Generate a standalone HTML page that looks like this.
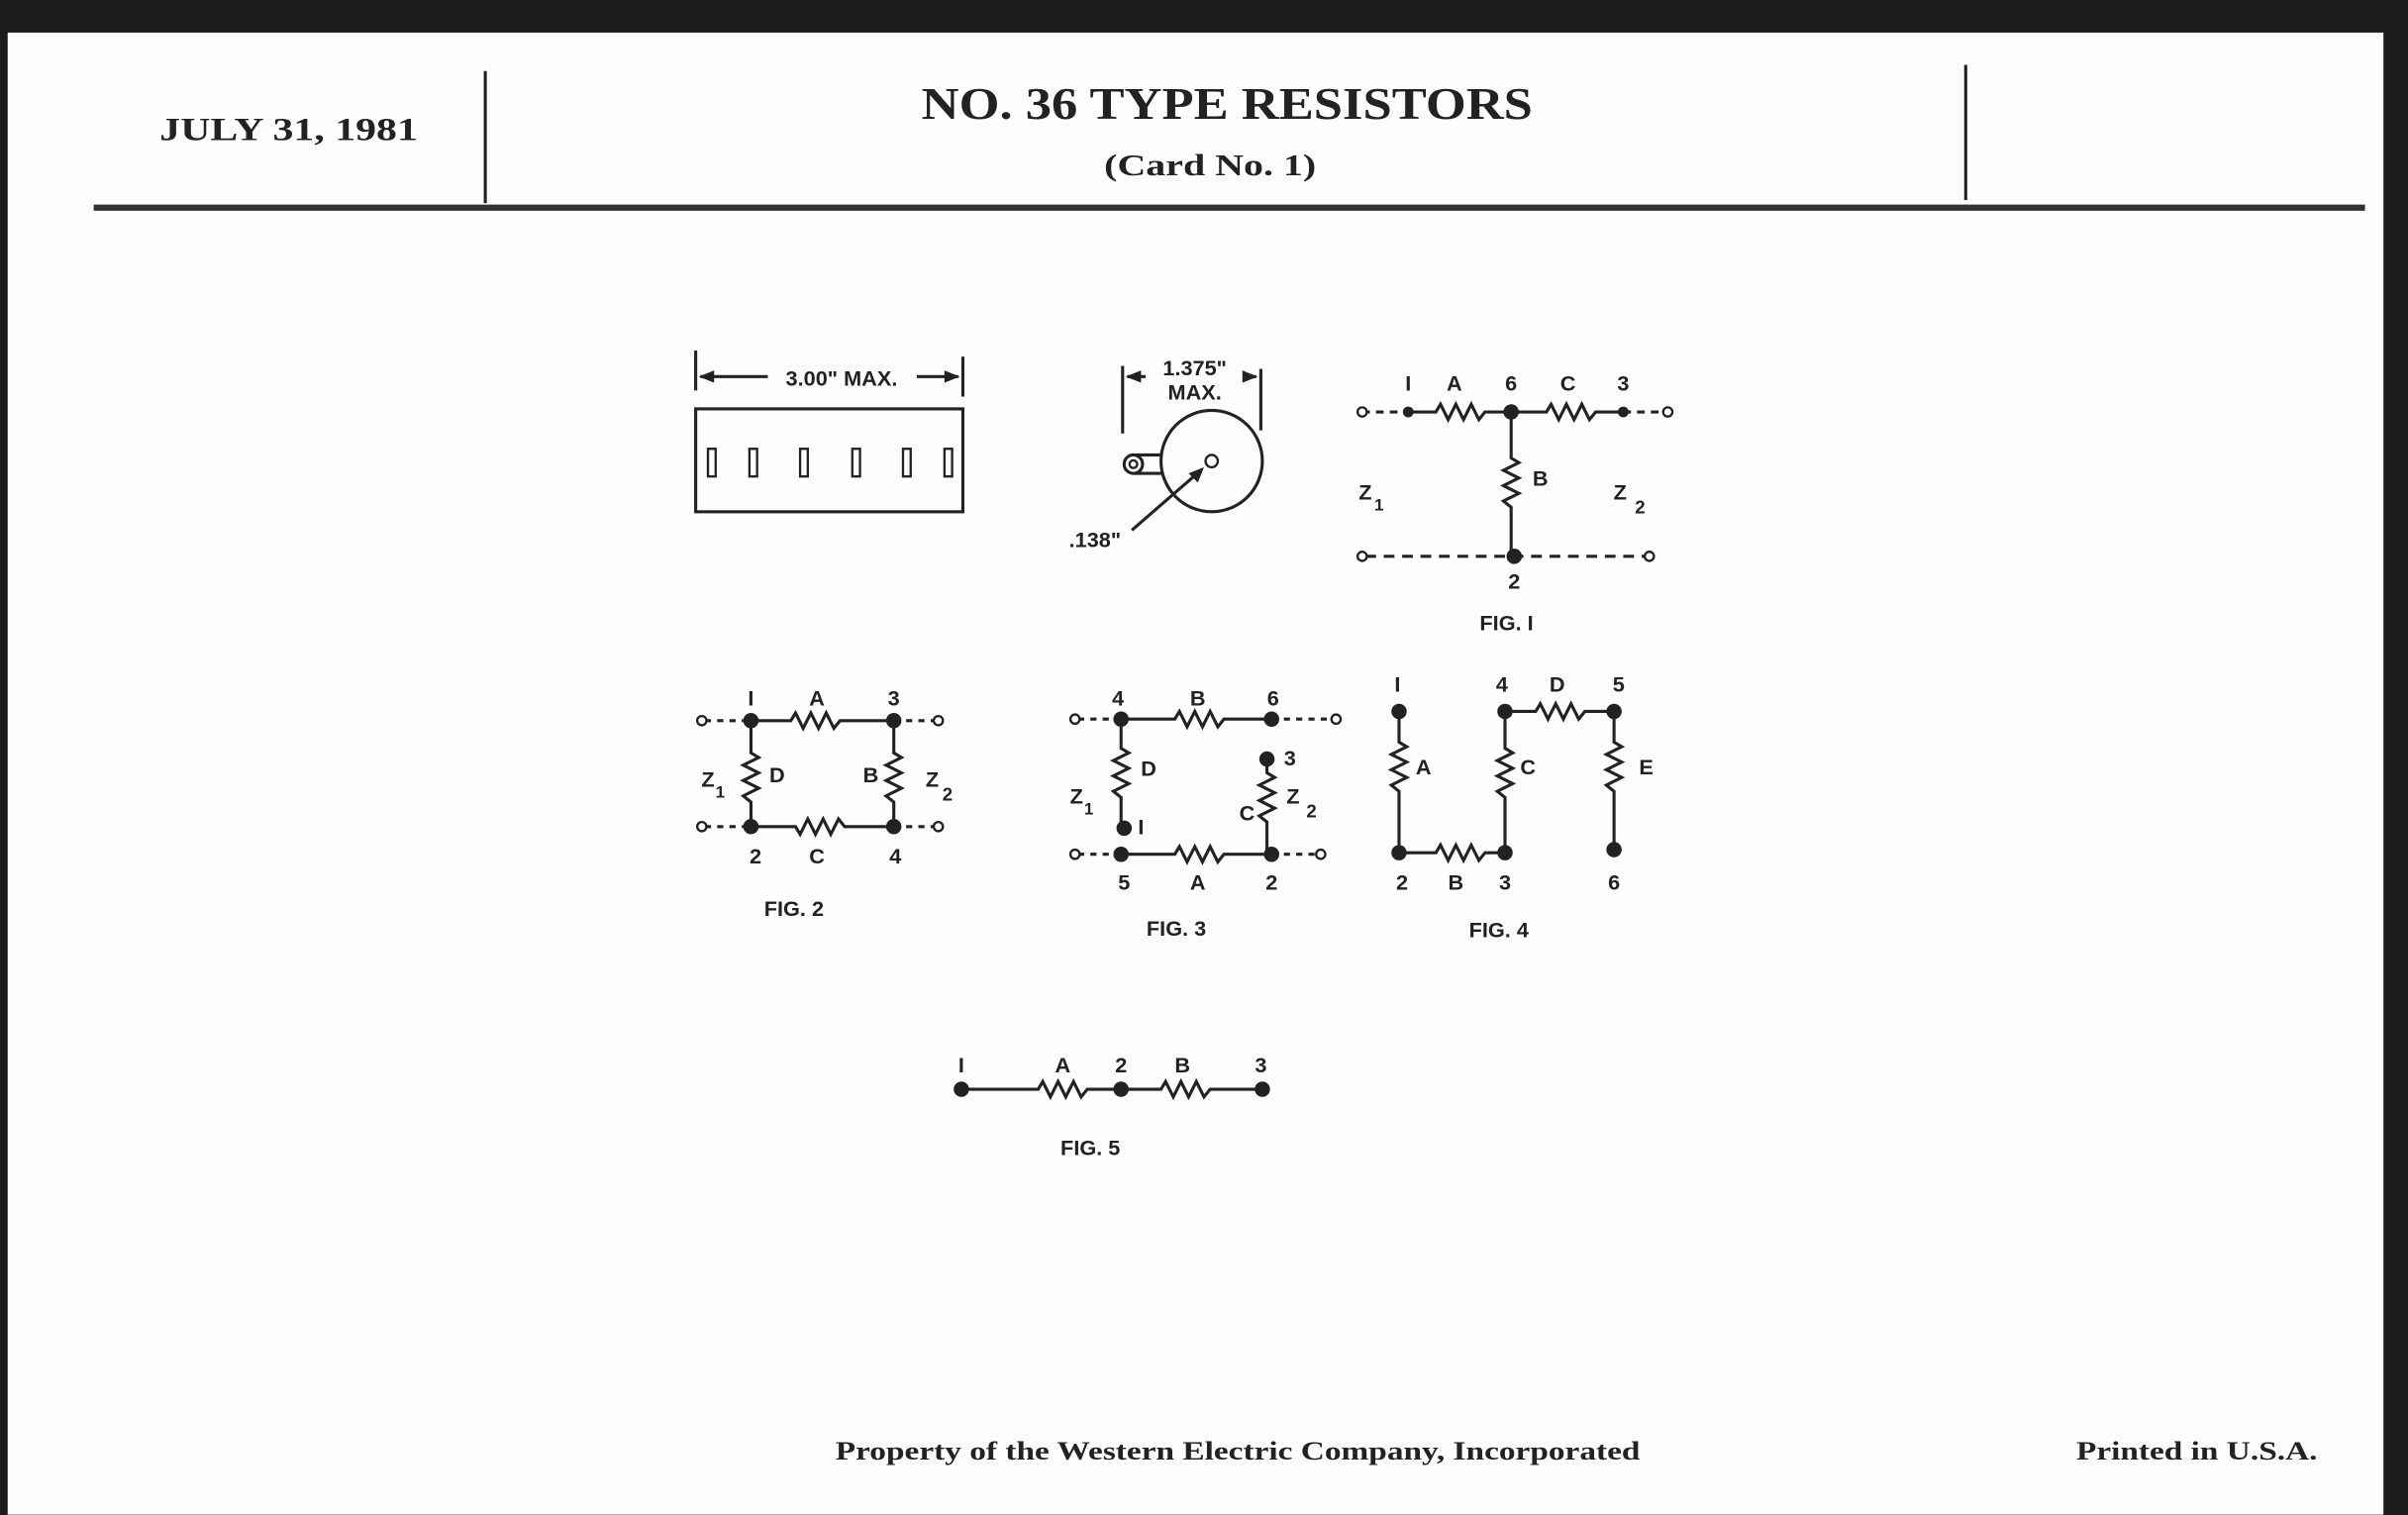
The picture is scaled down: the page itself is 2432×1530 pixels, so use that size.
<!DOCTYPE html>
<html><head><meta charset="utf-8"><style>
html,body{margin:0;padding:0;background:#1a1a1a;}
svg{display:block;}
.s{font-family:"Liberation Serif",serif;font-weight:bold;fill:#222;}
.d{font-family:"Liberation Sans",sans-serif;font-weight:bold;fill:#222;font-size:14px;}
</style></head><body>
<svg width="2432" height="1530" viewBox="0 0 1568 986" xmlns="http://www.w3.org/2000/svg">
<rect x="0" y="0" width="1568" height="986" fill="#1c1c1c"/>
<rect x="5" y="21" width="1547" height="965" fill="#fdfdfd"/>
<!-- header -->
<line x1="316" y1="46" x2="316" y2="132" stroke="#222" stroke-width="2"/>
<line x1="1280" y1="42" x2="1280" y2="130" stroke="#222" stroke-width="2"/>
<line x1="61" y1="135" x2="1540" y2="135" stroke="#333" stroke-width="4"/>
<text class="s" x="104" y="91" font-size="21" textLength="168" lengthAdjust="spacingAndGlyphs">JULY 31, 1981</text>
<text class="s" x="600" y="77" font-size="29" textLength="398" lengthAdjust="spacingAndGlyphs">NO. 36 TYPE RESISTORS</text>
<text class="s" x="719" y="114" font-size="20" font-weight="normal" textLength="138" lengthAdjust="spacingAndGlyphs">(Card No. 1)</text>
<text class="s" x="544" y="950" font-size="17" textLength="524" lengthAdjust="spacingAndGlyphs">Property of the Western Electric Company, Incorporated</text>
<text class="s" x="1352" y="950" font-size="17" textLength="157" lengthAdjust="spacingAndGlyphs">Printed in U.S.A.</text>

<g stroke="#222" stroke-width="2" fill="none">
<rect x="453" y="266" width="174" height="67"/>
<g stroke-width="1.5">
<rect x="461" y="292" width="5" height="18"/><rect x="488" y="292" width="5" height="18"/>
<rect x="521" y="292" width="5" height="18"/><rect x="555" y="292" width="5" height="18"/>
<rect x="588" y="292" width="5" height="18"/><rect x="615" y="292" width="5" height="18"/>
</g>
<line x1="453" y1="228" x2="453" y2="254"/><line x1="627" y1="232" x2="627" y2="258"/>
<line x1="456" y1="245" x2="500" y2="245"/><line x1="597" y1="245" x2="624" y2="245"/>
<circle cx="789" cy="300" r="33"/>
<circle cx="789" cy="300" r="4" stroke-width="1.5"/>
<circle cx="738" cy="302" r="6"/><circle cx="738" cy="302" r="2.5" stroke-width="1.5"/>
<line x1="738" y1="296" x2="757" y2="296"/><line x1="738" y1="308" x2="757" y2="308"/>
<line x1="731" y1="238" x2="731" y2="282"/><line x1="821" y1="240" x2="821" y2="280"/>
<line x1="734" y1="245" x2="746" y2="245"/><line x1="810" y1="245" x2="818" y2="245"/>
<line x1="737" y1="345" x2="782" y2="306"/>

<path d="M887 268 H917" stroke-dasharray="5,4"/>
<path d="M917 268 H935 l3,-5 l5,10 l5,-10 l5,10 l5,-10 l5,10 l4,-5 H1007 l3,-5 l5,10 l5,-10 l5,10 l5,-10 l5,10 l4,-5 H1057"/>
<path d="M1057 268 H1084" stroke-dasharray="5,4"/>
<path d="M984 268 V298 l5,3 l-10,5 l10,5 l-10,5 l10,5 l-10,5 l5,4 V362"/>
<path d="M889 362 H1072" stroke-dasharray="7,5"/>
<path d="M459 469 H489 M582 469 H609 M459 538 H489 M582 538 H609" stroke-dasharray="4,4"/>
<path d="M489 469 H515 l3,-5 l5,10 l5,-10 l5,10 l5,-10 l5,10 l4,-5 H582 V490 l5,3 l-10,5 l10,5 l-10,5 l10,5 l-10,5 l5,4 V538 H550 l-4,-5 l-5,10 l-5,-10 l-5,10 l-5,-10 l-5,10 l-3,-5 H489 V522 l-5,-4 l10,-5 l-10,-5 l10,-5 l-10,-5 l10,-5 l-5,-3 V469"/>
<path d="M702 468 H730 M828 468 H868 M702 556 H730 M828 556 H858" stroke-dasharray="4,4"/>
<path d="M730 468 H765 l3,-5 l5,10 l5,-10 l5,10 l5,-10 l5,10 l4,-5 H828"/>
<path d="M730 468 V487 l5,3 l-10,5 l10,5 l-10,5 l10,5 l-10,5 l5,4 V538"/>
<path d="M825 494 V503 l5,3 l-10,5 l10,5 l-10,5 l10,5 l-10,5 l5,4 V556"/>
<path d="M730 556 H765 l3,-5 l5,10 l5,-10 l5,10 l5,-10 l5,10 l4,-5 H828"/>
<path d="M911 463 V483 l5,3 l-10,5 l10,5 l-10,5 l10,5 l-10,5 l5,4 V555 H935 l3,-5 l5,10 l5,-10 l5,10 l5,-10 l5,10 l4,-5 H980 V519 l-5,-4 l10,-5 l-10,-5 l10,-5 l-10,-5 l10,-5 l-5,-3 V463 H1000 l3,-5 l5,10 l5,-10 l5,10 l5,-10 l5,10 l4,-5 H1051 V483 l5,3 l-10,5 l10,5 l-10,5 l10,5 l-10,5 l5,4 V553"/>
<path d="M626 709 H676 l3,-5 l5,10 l5,-10 l5,10 l5,-10 l5,10 l4,-5 H756 l3,-5 l5,10 l5,-10 l5,10 l5,-10 l5,10 l4,-5 H822"/>
</g>

<g fill="#222">
<path d="M455 245 l10,-4 v8z"/><path d="M625 245 l-10,-4 v8z"/>
<path d="M733 245 l10,-4 v8z"/><path d="M819 245 l-10,-4 v8z"/>
<path d="M784 304 l-4,10 l-6,-6z"/>
</g>

<g fill="#fff" stroke="#222" stroke-width="1.5">
<circle cx="887" cy="268" r="3"/><circle cx="1086" cy="268" r="3"/>
<circle cx="887" cy="362" r="3"/><circle cx="1074" cy="362" r="3"/>
<circle cx="457" cy="469" r="3"/><circle cx="611" cy="469" r="3"/>
<circle cx="457" cy="538" r="3"/><circle cx="611" cy="538" r="3"/>
<circle cx="700" cy="468" r="3"/><circle cx="870" cy="468" r="3"/>
<circle cx="700" cy="556" r="3"/><circle cx="860" cy="556" r="3"/>
</g>
<g fill="#222">
<circle cx="917" cy="268" r="3.5"/><circle cx="984" cy="268" r="5"/><circle cx="1057" cy="268" r="3.5"/>
<circle cx="986" cy="362" r="5"/>
<circle cx="489" cy="469" r="5"/><circle cx="582" cy="469" r="5"/><circle cx="489" cy="538" r="5"/><circle cx="582" cy="538" r="5"/>
<circle cx="730" cy="468" r="5"/><circle cx="828" cy="468" r="5"/><circle cx="730" cy="556" r="5"/><circle cx="828" cy="556" r="5"/>
<circle cx="732" cy="539" r="5"/><circle cx="825" cy="494" r="5"/>
<circle cx="911" cy="463" r="5"/><circle cx="911" cy="555" r="5"/><circle cx="980" cy="555" r="5"/><circle cx="980" cy="463" r="5"/>
<circle cx="1051" cy="463" r="5"/><circle cx="1051" cy="553" r="5"/>
<circle cx="626" cy="709" r="5"/><circle cx="730" cy="709" r="5"/><circle cx="822" cy="709" r="5"/>
</g>

<g class="d" text-anchor="middle">
<text x="548" y="251">3.00" MAX.</text>
<text x="778" y="244">1.375"</text><text x="778" y="260">MAX.</text>
<text x="713" y="356">.138"</text>
<text x="917" y="254">I</text><text x="947" y="254">A</text><text x="984" y="254">6</text><text x="1021" y="254">C</text><text x="1057" y="254">3</text>
<text x="1003" y="316">B</text>
<text x="889" y="325">Z</text><text x="898" y="332" font-size="11">1</text>
<text x="1055" y="325">Z</text><text x="1068" y="334" font-size="12">2</text>
<text x="986" y="383">2</text>
<text x="981" y="410">FIG. I</text>
<text x="489" y="459">I</text><text x="532" y="459">A</text><text x="582" y="459">3</text>
<text x="461" y="512">Z</text><text x="469" y="519" font-size="11">1</text>
<text x="506" y="509">D</text><text x="567" y="509">B</text>
<text x="607" y="512">Z</text><text x="617" y="521" font-size="12">2</text>
<text x="492" y="562">2</text><text x="532" y="562">C</text><text x="583" y="562">4</text>
<text x="517" y="596">FIG. 2</text>
<text x="728" y="459">4</text><text x="780" y="459">B</text><text x="829" y="459">6</text>
<text x="748" y="505">D</text><text x="840" y="498">3</text>
<text x="701" y="523">Z</text><text x="709" y="530" font-size="11">1</text>
<text x="743" y="543">I</text>
<text x="812" y="534">C</text>
<text x="842" y="523">Z</text><text x="854" y="532" font-size="12">2</text>
<text x="732" y="579">5</text><text x="780" y="579">A</text><text x="828" y="579">2</text>
<text x="766" y="609">FIG. 3</text>
<text x="910" y="450">I</text><text x="978" y="450">4</text><text x="1014" y="450">D</text><text x="1054" y="450">5</text>
<text x="927" y="504">A</text><text x="995" y="504">C</text><text x="1072" y="504">E</text>
<text x="913" y="579">2</text><text x="948" y="579">B</text><text x="980" y="579">3</text><text x="1051" y="579">6</text>
<text x="976" y="610">FIG. 4</text>
<text x="626" y="698">I</text><text x="692" y="698">A</text><text x="730" y="698">2</text><text x="770" y="698">B</text><text x="821" y="698">3</text>
<text x="710" y="752">FIG. 5</text>
</g>
</svg>
</body></html>
